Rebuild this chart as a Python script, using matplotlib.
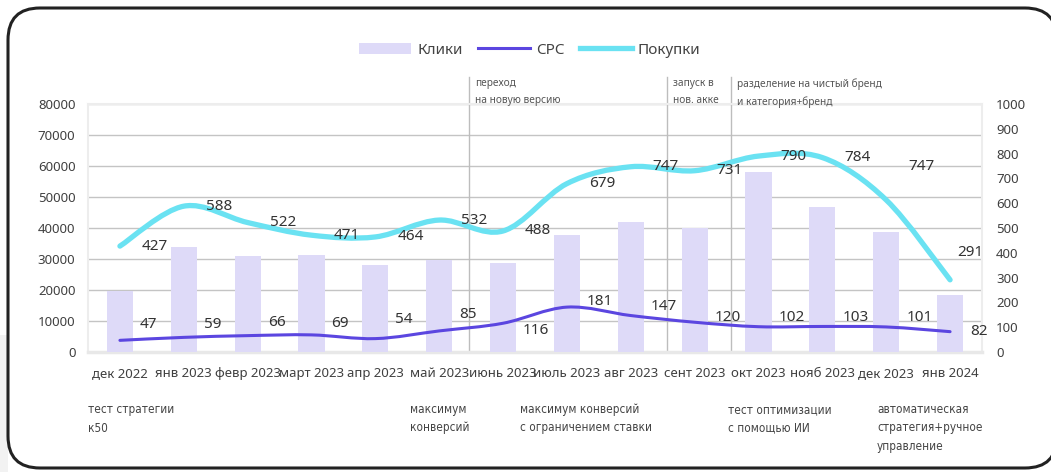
import numpy as np
import matplotlib.pyplot as plt
from matplotlib.path import Path
from matplotlib.patches import PathPatch, FancyBboxPatch, Patch, Rectangle
from matplotlib.lines import Line2D

plt.rcParams['font.family'] = ['Noto Sans', 'DejaVu Sans']

months = ['дек 2022', 'янв 2023', 'февр 2023', 'март 2023', 'апр 2023', 'май 2023',
          'июнь 2023', 'июль 2023', 'авг 2023', 'сент 2023', 'окт 2023', 'нояб 2023',
          'дек 2023', 'янв 2024']
clicks = [19700, 33800, 31000, 31400, 28200, 29700, 28800, 37800, 41900, 40000,
          58100, 46800, 38700, 18400]
cpc = [47, 59, 66, 69, 54, 85, 116, 181, 147, 120, 102, 103, 101, 82]
purchases = [427, 588, 522, 471, 464, 532, 488, 679, 747, 731, 790, 784, 747, 291]
# the drawn curve in the picture dips well below its label in dec 2023
purchases_curve = [427, 588, 522, 471, 464, 532, 488, 679, 747, 731, 790, 784, 613, 291]

event_pos = [5.47, 8.57, 9.57]
event_text = ['переход\nна новую версию', 'запуск в\nнов. акке',
              'разделение на чистый бренд\nи категория+бренд']
note_text = ['тест стратегии\nк50', 'максимум\nконверсий',
             'максимум конверсий\nс ограничением ставки',
             'тест оптимизации\nс помощью ИИ',
             'автоматическая\nстратегия+ручное\nуправление']
note_x = [88, 410, 520, 728, 877]

# label offsets in pixels (right, up) for the numbers
cpc_dy = [16, 13, 13, 11, 19, 16, -7, 6, 9, 5, 9, 9, 9, 0]
pur_dx = [22] * 13 + [7]
pur_dy = [0] * 13 + [27]

BAR = '#dedaf8'
CPC_C = '#5b46e0'
PUR_C = '#6ae2f2'
W, H = 1051, 472
PT = 0.72  # points per pixel at dpi 100


def smooth_path(x, y):
    pts = np.column_stack([x, y]).astype(float)
    n = len(pts)
    verts = [pts[0]]
    codes = [Path.MOVETO]
    for i in range(n - 1):
        p0 = pts[i - 1] if i > 0 else pts[i]
        p1 = pts[i]
        p2 = pts[i + 1]
        p3 = pts[i + 2] if i + 2 < n else pts[i + 1]
        verts += [p1 + (p2 - p0) / 6, p2 - (p3 - p1) / 6, p2]
        codes += [Path.CURVE4] * 3
    return Path(verts, codes)


def fx(px):
    return px / W


def fy(py):
    return 1 - py / H


fig = plt.figure(figsize=(W / 100, H / 100), dpi=100)
fig.patch.set_facecolor('white')

# background layer in pixel coordinates: rounded frame
bg = fig.add_axes([0, 0, 1, 1])
bg.set_xlim(0, W)
bg.set_ylim(H, 0)
bg.axis('off')
bg.set_zorder(0)
bg.add_patch(Rectangle((0, 335), 8, 140, facecolor='#f2f2f2', edgecolor='none'))
bg.add_patch(FancyBboxPatch((8, 8), 1049, 460, boxstyle='round,pad=0,rounding_size=32',
                            facecolor='white', edgecolor='#222222', linewidth=2.2))

ax = fig.add_axes([fx(88), fy(352), fx(982) - fx(88), fy(104) - fy(352)])
ax.set_zorder(2)
x = np.arange(len(months))
ax.bar(x, clicks, width=0.41, color=BAR, zorder=3)
ax.set_xlim(-0.5, len(months) - 0.5)
ax.set_ylim(0, 80000)
ax.set_yticks(np.arange(0, 80001, 10000))
ax.yaxis.grid(True, color='#c4c4c4', linewidth=1, zorder=0)
ax.set_axisbelow(True)
ax.set_xticks(x)
ax.set_xticklabels(months)
ax.tick_params(axis='both', length=0, labelsize=9.5, labelcolor='#404040')
ax.tick_params(axis='y', pad=9)
ax.tick_params(axis='x', pad=11)
ax.set_facecolor('none')
for side in ['left', 'top', 'right']:
    ax.spines[side].set_color('#ededed')
    ax.spines[side].set_linewidth(1.5)
ax.spines['bottom'].set_color('#e8e8e8')
ax.spines['bottom'].set_linewidth(2.5)

for pos, txt in zip(event_pos, event_text):
    ax.axvline(pos, ymin=0, ymax=1.11, color='#bdbdbd', linewidth=1, clip_on=False, zorder=1)
    ax.annotate(txt, xy=(pos, 1.11), xycoords=('data', 'axes fraction'),
                xytext=(4, -1), textcoords='offset points', ha='left', va='top',
                fontsize=7.3, color='#555555', linespacing=1.7)

ax2 = ax.twinx()
ax2.set_ylim(0, 1000)
ax2.set_yticks(np.arange(0, 1001, 100))
ax2.tick_params(axis='y', length=0, labelsize=9.5, labelcolor='#404040', pad=10)
for s in ax2.spines.values():
    s.set_visible(False)

ax2.add_patch(PathPatch(smooth_path(x, purchases_curve), facecolor='none', edgecolor=PUR_C,
                        linewidth=3.8, capstyle='round', zorder=4))
ax2.add_patch(PathPatch(smooth_path(x, cpc), facecolor='none', edgecolor=CPC_C,
                        linewidth=2.2, capstyle='round', zorder=5))

for i in range(len(months)):
    ax2.annotate(str(purchases[i]), xy=(x[i], purchases[i]),
                 xytext=(pur_dx[i] * PT, pur_dy[i] * PT),
                 textcoords='offset points', ha='left', va='center', fontsize=11,
                 color='#333333', zorder=6)
    ax2.annotate(str(cpc[i]), xy=(x[i], cpc[i]), xytext=(20 * PT, cpc_dy[i] * PT),
                 textcoords='offset points', ha='left', va='center', fontsize=11,
                 color='#333333', zorder=6)

handles = [Patch(facecolor=BAR, edgecolor='none'),
           Line2D([], [], color=CPC_C, linewidth=2.2),
           Line2D([], [], color=PUR_C, linewidth=3.8)]
fig.legend(handles, ['Клики', 'CPC', 'Покупки'], loc='center', bbox_to_anchor=(fx(530), fy(50)),
           ncol=3, frameon=False, fontsize=11, handlelength=3.4, handleheight=0.7,
           handletextpad=0.4, columnspacing=1.0, labelcolor='#444444')

for px, txt in zip(note_x, note_text):
    fig.text(fx(px), fy(403), txt, ha='left', va='top', fontsize=8.5, color='#444444',
             linespacing=1.55, family='DejaVu Sans', fontstretch='condensed')

fig.savefig('out.png', dpi=100)
